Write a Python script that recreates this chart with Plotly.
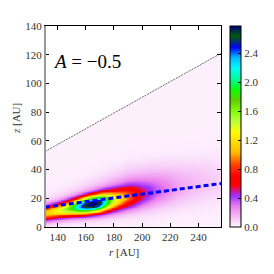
import numpy as np
import plotly.graph_objects as go

# ---- data ----
A_label = "<i>A</i> = \u22120.5"
x_title = "<i>r</i> [AU]"
y_title = "<i>z</i> [AU]"

# core ridge of the density blob
core_r     = [131, 140, 145, 150, 155, 160, 165, 170, 175, 180, 185, 190, 195, 200, 210, 225, 240, 256]
core_z     = [9.5, 11.2, 12.2, 13.2, 14.1, 15.0, 15.8, 16.7, 17.6, 18.5, 19.5, 20.5, 21.3, 22.0, 23.3, 25.0, 27.0, 29.0]
core_peak  = [1.0, 1.2, 1.38, 1.68, 2.12, 2.58, 2.75, 2.52, 1.78, 1.27, 0.97, 0.75, 0.55, 0.36, 0.16, 0.05, 0.02, 0.01]
core_sigma = [3.5, 3.6, 3.7, 3.8, 3.9, 4.0, 4.1, 4.3, 4.6, 4.9, 5.2, 5.5, 5.8, 6.1, 6.5, 7.0, 8.0, 9.0]

# faint broad halo above the core
halo_r     = [131, 150, 170, 190, 210, 230, 256]
halo_z     = [12, 17, 22, 27, 29, 31, 34]
halo_peak  = [0.08, 0.12, 0.18, 0.22, 0.2, 0.12, 0.06]
halo_sigma = [6, 7, 8, 9, 9.5, 10, 11]

background = 0.02

# upper boundary of the domain (thin line) and dashed blue line
edge_r = [131, 256]
edge_z = [52.6, 121.0]
dash_r = [131, 256]
dash_z = [13.8, 30.3]

r_range = [131, 256]
z_range = [0, 140]
x_ticks = [140, 160, 180, 200, 220, 240]
y_ticks = [0, 20, 40, 60, 80, 100, 120, 140]
cb_ticks = [0.0, 0.4, 0.8, 1.2, 1.6, 2.0, 2.4]
cb_max = 2.78

# ---- build the field ----
rg = np.arange(r_range[0], r_range[1] + 0.01, 0.5)
zg = np.arange(z_range[0], z_range[1] + 0.01, 0.5)
R, Z = np.meshgrid(rg, zg)

def ridge(rr, zz, pk, sg):
    zc = np.interp(R, rr, zz)
    p = np.interp(R, rr, pk)
    s = np.interp(R, rr, sg)
    return p * np.exp(-0.5 * ((Z - zc) / s) ** 2)

field = background + ridge(core_r, core_z, core_peak, core_sigma) + ridge(halo_r, halo_z, halo_peak, halo_sigma)
zedge = np.interp(R, edge_r, edge_z)
field = np.where(Z <= zedge, np.round(field, 3), np.nan)

# ---- gist_ncar_r colour scale ----
seg_red = [(0.0, 0.0), (0.3098, 0.0), (0.3725, 0.3993), (0.4235, 0.5003), (0.5333, 1.0),
           (0.7922, 1.0), (0.8471, 0.6218), (0.8980, 0.9235), (1.0, 0.9961)]
seg_green = [(0.0, 0.0), (0.0510, 0.3722), (0.1059, 0.0), (0.1569, 0.7202), (0.1608, 0.7537),
             (0.1647, 0.7752), (0.2157, 1.0), (0.2588, 0.9804), (0.2706, 0.9804), (0.3176, 1.0),
             (0.3686, 0.8081), (0.4275, 1.0), (0.5216, 1.0), (0.6314, 0.7292), (0.6863, 0.2796),
             (0.7451, 0.0), (0.7922, 0.0), (0.8431, 0.1753), (0.8980, 0.5), (1.0, 0.9725)]
seg_blue = [(0.0, 0.5020), (0.0510, 0.0222), (0.1098, 1.0), (0.2039, 1.0), (0.2627, 0.6145),
            (0.3216, 0.0), (0.4157, 0.0), (0.4745, 0.2342), (0.5333, 0.0), (0.7922, 0.0),
            (0.8431, 1.0), (0.8980, 0.9341), (1.0, 0.9961)]

def chan(seg, t):
    xs = [a for a, _ in seg]
    ys = [b for _, b in seg]
    return float(np.interp(t, xs, ys))

pts = np.linspace(0, 1, 129)
colorscale = []
for p in pts:
    t = 1 - p
    colorscale.append([float(p), "rgb(%d,%d,%d)" % (round(255 * chan(seg_red, t)),
                                                    round(255 * chan(seg_green, t)),
                                                    round(255 * chan(seg_blue, t)))])

font_family = "Liberation Serif"

fig = go.Figure()
fig.add_trace(go.Heatmap(
    x=rg, y=zg, z=field, zmin=0, zmax=cb_max, colorscale=colorscale,
    hoverongaps=False,
    colorbar=dict(
        thickness=11, thicknessmode="pixels", len=1, lenmode="fraction",
        x=1.05, xanchor="left", xpad=0, y=0.5, yanchor="middle", ypad=0,
        tickvals=cb_ticks, tickformat=".1f", ticks="inside", ticklen=3,
        tickcolor="black", outlinecolor="black", outlinewidth=1,
        tickfont=dict(family=font_family, size=11, color="#333"),
    ),
))

fig.add_trace(go.Scatter(x=edge_r, y=edge_z, mode="lines",
                         line=dict(color="#444", width=0.8, dash="2px,1px"),
                         showlegend=False, hoverinfo="skip"))
fig.add_trace(go.Scatter(x=dash_r, y=dash_z, mode="lines",
                         line=dict(color="#0000ff", width=3, dash="5px,3px"),
                         showlegend=False, hoverinfo="skip"))

fig.add_annotation(x=161, y=115, xref="x", yref="y", text=A_label, showarrow=False,
                   font=dict(family=font_family, size=19, color="black"))

# axis titles
fig.add_annotation(x=0.447, y=-0.125, xref="paper", yref="paper", text=x_title,
                   showarrow=False, yanchor="middle",
                   font=dict(family=font_family, size=11, color="#333"))
fig.add_annotation(x=-0.165, y=0.542, xref="paper", yref="paper", text=y_title,
                   showarrow=False, textangle=-90, xanchor="center",
                   font=dict(family=font_family, size=11, color="#333"))

fig.add_shape(type="line", xref="paper", yref="paper", x0=0, x1=0, y0=0, y1=1,
              line=dict(color="#999", width=2))

axis_common = dict(showline=True, linecolor="black", linewidth=1, mirror="ticks",
                   ticks="inside", ticklen=4, tickcolor="black", showgrid=False,
                   zeroline=False,
                   tickfont=dict(family=font_family, size=11, color="#333"))

# the page body adds an 8 px offset, so the figure is 266 px and margins compensate
fig.update_layout(
    width=266, height=266,
    margin=dict(l=37, r=48, t=16, b=47),
    paper_bgcolor="white", plot_bgcolor="white",
    showlegend=False,
    xaxis=dict(range=r_range, tickvals=x_ticks, **axis_common),
    yaxis=dict(range=z_range, tickvals=y_ticks, **axis_common),
)

fig.write_html("out.html")
